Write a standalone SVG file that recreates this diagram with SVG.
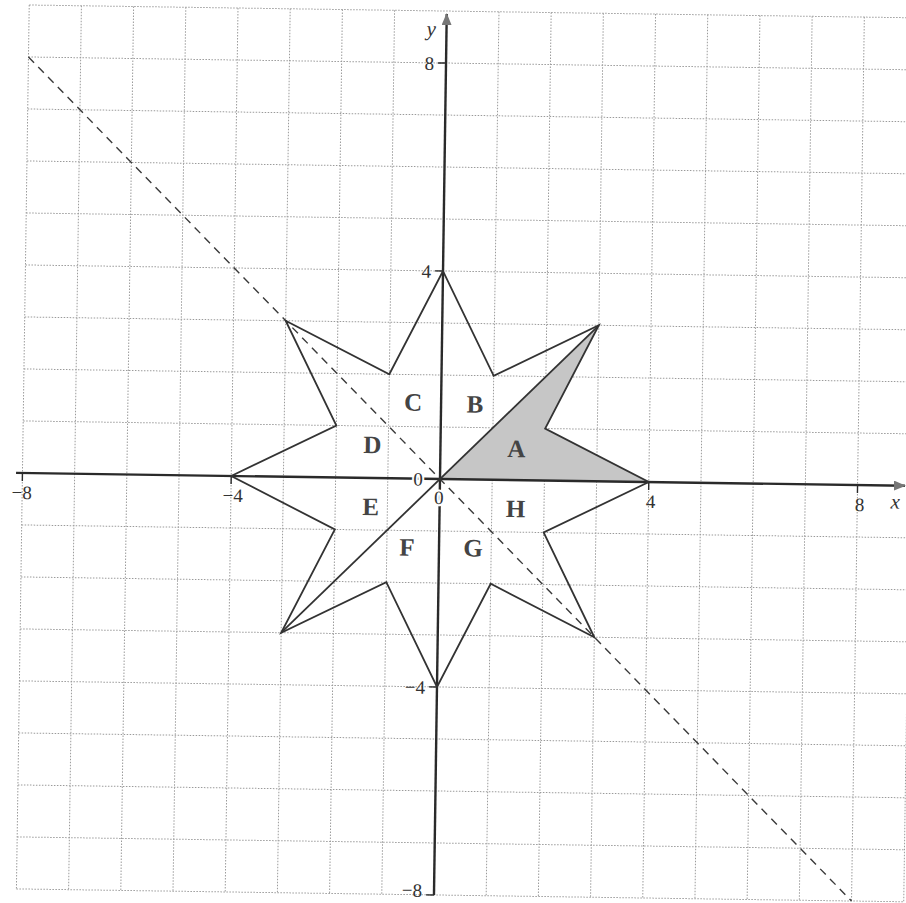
<svg xmlns="http://www.w3.org/2000/svg" width="906" height="903" viewBox="0 0 906 903">
<defs>
<style>
.grid{stroke:#9a9a9a;stroke-width:1;stroke-dasharray:1.5 1.5;fill:none}
.axis{stroke:#2a2a2a;stroke-width:2.4;fill:none}
.tick{stroke:#2a2a2a;stroke-width:1.4}
.edge{stroke:#333;stroke-width:1.8;fill:none;stroke-linejoin:miter}
.dash{stroke:#3a3a3a;stroke-width:1.4;stroke-dasharray:8 6;fill:none}
.num{font-family:"Liberation Serif",serif;font-size:19px;fill:#333}
.var{font-family:"Liberation Serif",serif;font-size:21px;font-style:italic;fill:#333}
.reg{font-family:"Liberation Serif",serif;font-size:25px;font-weight:bold;fill:#444;text-anchor:middle}
.halo{paint-order:stroke;stroke:#fff;stroke-width:4}
</style>
<marker id="arr" viewBox="0 0 12 10" refX="11" refY="5" markerWidth="12" markerHeight="10" markerUnits="userSpaceOnUse" orient="auto">
<path d="M0,0 L12,5 L0,10 Z" fill="#777"/>
</marker>
</defs>
<rect width="906" height="903" fill="#fff"/>
<g transform="rotate(0.83 440 479)">
<g id="grid">
<path class="grid" d="M22.4,11V895M74.6,11V895M126.8,11V895M179,11V895M231.2,11V895M283.4,11V895M335.6,11V895M387.8,11V895M492.2,11V895M544.4,11V895M596.6,11V895M648.8,11V895M701,11V895M753.2,11V895M805.4,11V895M857.6,11V895M909.8,11V895"/>
<path class="grid" d="M22.4,11H910M22.4,63H910M22.4,115H910M22.4,167H910M22.4,219H910M22.4,271H910M22.4,323H910M22.4,375H910M22.4,427H910M22.4,531H910M22.4,583H910M22.4,635H910M22.4,687H910M22.4,739H910M22.4,791H910M22.4,843H910M22.4,895H910"/>
</g>
<g id="shadedA">
<polygon points="440,479 596.6,323 544.4,427 648.8,479" fill="#c6c6c6" stroke="none"/>
</g>
<g id="axes">
<line class="axis" x1="16" y1="479" x2="905" y2="479" marker-end="url(#arr)"/>
<line class="axis" x1="440" y1="895" x2="440" y2="14" marker-end="url(#arr)"/>
<path class="tick" d="M432,63H440M432,271H440M432,687H440M432,895H440M22.4,479V487M231.2,479V487M648.8,479V487M857.6,479V487"/>
</g>
<g id="connectors">
<line class="dash" x1="22.4" y1="63" x2="857.6" y2="895"/>
<line class="edge" x1="283.4" y1="635" x2="596.6" y2="323"/>
</g>
<g id="star">
<polygon class="edge" points="440,271 492.2,375 596.6,323 544.4,427 648.8,479 544.4,531 596.6,635 492.2,583 440,687 387.8,583 283.4,635 335.6,531 231.2,479 335.6,427 283.4,323 387.8,375"/>
</g>
<g id="axis-labels">
<text class="var" x="420" y="36">y</text>
<text class="var" x="891" y="502">x</text>
<text class="num" x="428" y="70" text-anchor="end">8</text>
<text class="num" x="428" y="278" text-anchor="end">4</text>
<text class="num" x="428" y="694" text-anchor="end">−4</text>
<text class="num" x="428" y="897" text-anchor="end">−8</text>
<text class="num" x="22" y="505" text-anchor="middle">−8</text>
<text class="num" x="233" y="505" text-anchor="middle">−4</text>
<text class="num" x="651" y="505" text-anchor="middle">4</text>
<text class="num" x="860" y="505" text-anchor="middle">8</text>
<text class="num halo" x="418" y="486" text-anchor="middle">0</text>
<text class="num halo" x="439" y="504" text-anchor="middle">0</text>
</g>
<g id="region-A"><text class="reg" x="516" y="456">A</text></g>
<g id="region-B"><text class="reg" x="474" y="412">B</text></g>
<g id="region-C"><text class="reg" x="412" y="411">C</text></g>
<g id="region-D"><text class="reg" x="372" y="454">D</text></g>
<g id="region-E"><text class="reg" x="371" y="516">E</text></g>
<g id="region-F"><text class="reg" x="408" y="556">F</text></g>
<g id="region-G"><text class="reg" x="474" y="556">G</text></g>
<g id="region-H"><text class="reg" x="516" y="516">H</text></g>
</g>
</svg>
